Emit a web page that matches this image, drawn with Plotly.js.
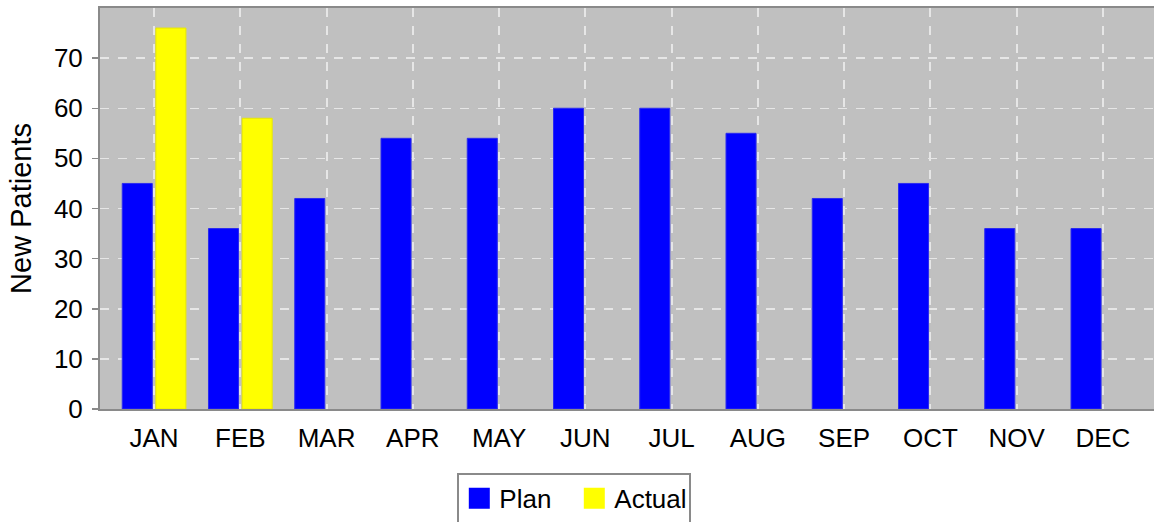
<!DOCTYPE html>
<html>
<head>
<meta charset="utf-8">
<script src="https://cdn.plot.ly/plotly-3.0.1.min.js"></script>
<style>
html,body{margin:0;padding:0;background:#fff;}
#chart{width:1154px;height:522px;}
</style>
</head>
<body>
<div id="chart"></div>
<script>
const months = ["JAN","FEB","MAR","APR","MAY","JUN","JUL","AUG","SEP","OCT","NOV","DEC"];
const planValues = [45, 36, 42, 54, 54, 60, 60, 55, 42, 45, 36, 36];
const actualValues = [76, 58, null, null, null, null, null, null, null, null, null, null];
const yTicks = [0, 10, 20, 30, 40, 50, 60, 70];
const seriesNames = ["Plan", "Actual"];
const seriesColors = ["#0000ff", "#ffff00"];

const font = "Liberation Sans, Arial, sans-serif";

const traces = [
  {
    type: "bar", x: months, y: planValues, name: seriesNames[0],
    marker: {color: seriesColors[0], line: {color: "#2a2af0", width: 1}},
    showlegend: false, hoverinfo: "x+y"
  },
  {
    type: "bar", x: months, y: actualValues, name: seriesNames[1],
    marker: {color: seriesColors[1], line: {color: "#e8e800", width: 1}},
    showlegend: false, hoverinfo: "x+y"
  },
  {
    type: "scatter", mode: "markers", x: [null], y: [null], name: seriesNames[0],
    marker: {symbol: "square", size: 16, color: seriesColors[0], line: {color: seriesColors[0], width: 5}}, showlegend: true
  },
  {
    type: "scatter", mode: "markers", x: [null], y: [null], name: seriesNames[1],
    marker: {symbol: "square", size: 16, color: seriesColors[1], line: {color: seriesColors[1], width: 5}}, showlegend: true
  }
];

const layout = {
  width: 1154, height: 522,
  margin: {l: 100, r: 0, t: 8, b: 113},
  paper_bgcolor: "#ffffff",
  plot_bgcolor: "#c0c0c0",
  barmode: "group",
  bargap: 0.22,
  bargroupgap: 0.107,
  font: {family: font, color: "#000000", size: 26},
  xaxis: {
    type: "category", automargin: false,
    categoryorder: "array", categoryarray: months,
    range: [-0.627, 11.593],
    showgrid: true, gridcolor: "#e6e6e6", griddash: "dash", gridwidth: 2,
    showline: true, linecolor: "#8a8a8a", linewidth: 2, mirror: true,
    ticks: "", tickfont: {family: font, size: 26, color: "#000"},
    ticklabelstandoff: 5,
    zeroline: false, fixedrange: true
  },
  yaxis: {
    automargin: false,
    range: [0, 80],
    tickvals: yTicks, ticktext: yTicks.map(String),
    showgrid: true, gridcolor: "#e6e6e6", griddash: "dash", gridwidth: 1.5,
    showline: true, linecolor: "#8a8a8a", linewidth: 2, mirror: true,
    ticks: "outside", ticklen: 6, tickcolor: "#8a8a8a", tickwidth: 1.5,
    tickfont: {family: font, size: 26, color: "#000"},
    ticklabelstandoff: 4,
    zeroline: false, fixedrange: true,
    title: {text: "New Patients", font: {family: font, size: 29, color: "#000"}, standoff: 14}
  },
  showlegend: true,
  legend: {
    orientation: "h",
    xref: "paper", x: 0.45, xanchor: "center",
    yref: "container", y: 0.094, yanchor: "top",
    bgcolor: "#ffffff", bordercolor: "#8a8a8a", borderwidth: 2,
    font: {family: font, size: 26, color: "#000"},
    itemsizing: "trace",
    entrywidth: 70, entrywidthmode: "pixels"
  }
};

Plotly.newPlot("chart", traces, layout, {displayModeBar: false, staticPlot: true});
</script>
</body>
</html>
